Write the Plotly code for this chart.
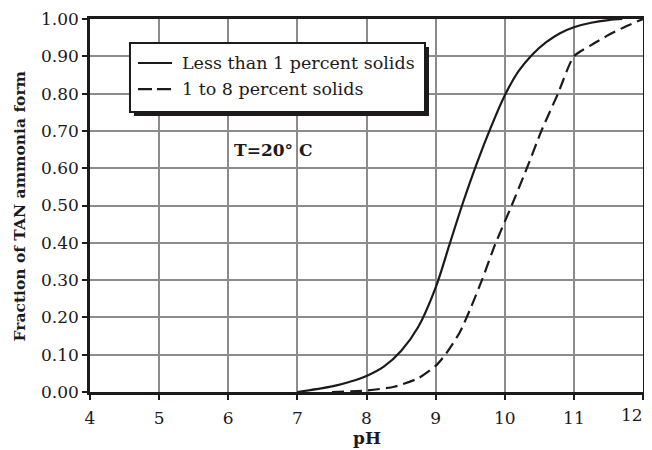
import plotly.graph_objects as go

# Fraction of TAN in ammonia form vs pH
ph_low_solids = [7.0, 7.5, 7.75, 8.0, 8.25, 8.5, 8.75, 9.0, 9.2, 9.4, 9.6, 9.8, 10.0,
                 10.2, 10.4, 10.6, 10.8, 11.0, 11.25, 11.5, 11.7]
frac_low_solids = [0.0, 0.015, 0.027, 0.043, 0.068, 0.11, 0.175, 0.28, 0.395, 0.51, 0.615,
                   0.71, 0.795, 0.86, 0.905, 0.938, 0.962, 0.978, 0.99, 0.997, 1.0]

ph_high_solids = [7.5, 8.0, 8.4, 8.75, 9.0, 9.14, 9.35, 9.5, 9.67, 9.86, 10.1, 10.32,
                  10.53, 10.77, 11.0, 11.25, 11.5, 11.75, 12.0]
frac_high_solids = [0.0, 0.004, 0.014, 0.037, 0.07, 0.10, 0.16, 0.222, 0.30, 0.395, 0.50,
                    0.60, 0.70, 0.80, 0.90, 0.93, 0.957, 0.98, 1.0]

series_names = ["Less than 1 percent solids", "1 to 8 percent solids"]
x_ticks = [4, 5, 6, 7, 8, 9, 10, 11, 12]
x_labels = ["4", "5", "6", "7", "8", "9", "10", "11", "12"]
y_ticks = [0.0, 0.1, 0.2, 0.3, 0.4, 0.5, 0.6, 0.7, 0.8, 0.9, 1.0]

FONT = "DejaVu Serif"
INK = "#1c1a1b"
GRID = "#8c8c8c"
DASH = "12px,6px"

fig = go.Figure()

fig.add_trace(go.Scatter(
    x=ph_low_solids, y=frac_low_solids, mode="lines", name=series_names[0],
    line=dict(color=INK, width=2.2, shape="spline", smoothing=1.0),
))
fig.add_trace(go.Scatter(
    x=ph_high_solids, y=frac_high_solids, mode="lines", name=series_names[1],
    line=dict(color=INK, width=2.2, dash=DASH, shape="spline", smoothing=0.6),
))

# hand-drawn legend box with drop shadow
box = dict(xref="paper", yref="paper", layer="above")
fig.add_shape(type="rect", x0=0.0796, x1=0.613, y0=0.740, y1=0.925,
              fillcolor=INK, line_width=0, **box)
fig.add_shape(type="rect", x0=0.0723, x1=0.6058, y0=0.7507, y1=0.9357,
              fillcolor="white", line=dict(color=INK, width=2), **box)
for i, (ly, dash) in enumerate([(0.882, "solid"), (0.812, "14px,5px")]):
    fig.add_shape(type="line", x0=0.0868, x1=0.1483, y0=ly, y1=ly,
                  line=dict(color=INK, width=2.2, dash=dash), **box)
    fig.add_annotation(xref="paper", yref="paper", x=0.1627, y=ly, xanchor="left",
                       yanchor="middle", text=series_names[i], showarrow=False,
                       font=dict(family=FONT, size=17.5, color=INK))

fig.add_annotation(x=6.65, y=0.65, text="<b>T=20° C</b>", showarrow=False,
                   font=dict(family=FONT, size=17, color=INK))

# axis titles placed as annotations for exact positioning
fig.add_annotation(xref="paper", yref="paper", x=-0.1266, y=0.5, textangle=-90,
                   text="<b>Fraction of TAN ammonia form</b>", showarrow=False,
                   xanchor="center", yanchor="middle",
                   font=dict(family=FONT, size=15.5, color=INK))
fig.add_annotation(xref="paper", yref="paper", x=0.5, y=-0.122, text="<b>pH</b>",
                   showarrow=False, xanchor="center", yanchor="middle",
                   font=dict(family=FONT, size=17, color=INK))

# last x label sits against the right page edge, so anchor it from the right
fig.add_annotation(xref="paper", yref="paper", x=1.0, xshift=2, y=-0.063,
                   xanchor="right", yanchor="middle", text=x_labels[-1],
                   showarrow=False, font=dict(family=FONT, size=17, color=INK))

axis_style = dict(
    ticks="outside", ticklen=5, tickwidth=1.5, tickcolor=INK,
    showgrid=True, gridcolor=GRID, gridwidth=1.5,
    showline=True, linecolor=INK, linewidth=2.5, mirror=True, zeroline=False,
    tickfont=dict(family=FONT, size=17, color=INK), automargin=False,
)
fig.update_xaxes(range=[4, 12], tickvals=x_ticks,
                 ticktext=x_labels[:-1] + [""], ticklabelstandoff=4, **axis_style)
fig.update_yaxes(range=[0, 1], tickvals=y_ticks, tickformat=".2f", **axis_style)

# the page body adds an 8px offset, so the figure is shrunk and margins shifted
fig.update_layout(
    width=644, height=442,
    margin=dict(l=82, r=9, t=11, b=58),
    paper_bgcolor="white", plot_bgcolor="white",
    font=dict(family=FONT, color=INK),
    showlegend=False,
)

fig.write_html("out.html")
